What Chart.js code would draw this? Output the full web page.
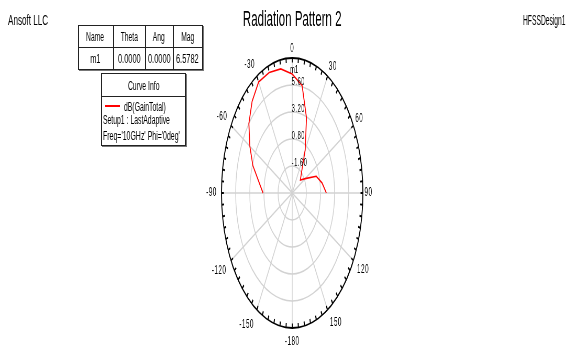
<!DOCTYPE html>
<html>
<head>
<meta charset="utf-8">
<title>Radiation Pattern 2</title>
<script src="https://cdn.jsdelivr.net/npm/chart.js@4.4.1/dist/chart.umd.min.js"></script>
<style>
  html, body { margin: 0; padding: 0; background: #fff; }
  #page { position: relative; width: 576px; height: 347px; overflow: hidden;
          font-family: "Liberation Sans", Arial, sans-serif; color: #000; }
  #polar { position: absolute; left: 0; top: 0; }
  .t { position: absolute; white-space: nowrap; font-size: 12px; line-height: 12px; }
  .t span { display: inline-block; transform-origin: 0 50%; }
  .tc { text-align: center; }
  .tc span { transform-origin: 50% 50%; }
  .frame { position: absolute; box-sizing: border-box; border: 1px solid #222;
           box-shadow: 1px 1px 0 #777; background: #fff; }
  .hl { position: absolute; left: 0; right: 0; border-top: 1px solid #222; }
  .vl { position: absolute; top: 0; bottom: 0; border-left: 1px solid #222; }
</style>
</head>
<body>
<div id="page">
  <canvas id="polar" width="1100" height="347" style="width:576px;height:347px"></canvas>

  <div class="t" style="left:8px;top:13px;font-size:14px;line-height:14px"><span style="transform:scaleX(0.58)">Ansoft LLC</span></div>
  <div class="t" style="left:523px;top:13px;font-size:14px;line-height:14px"><span style="transform:scaleX(0.48)">HFSSDesign1</span></div>

  <div class="frame" id="markerBox" style="left:78px;top:25px;width:125px;height:45px"></div>

  <div class="frame" id="curveBox" style="left:101px;top:73px;width:85px;height:73px">
    <div class="hl" style="top:22px"></div>
  </div>
</div>

<script>
// polar grid angles (deg) used as radar categories
var thetaGrid = [0, 10, 20, 30, 40, 50, 60, 70, 80, 90, 100, 110, 120, 130, 140, 150, 160, 170,
                 180, 190, 200, 210, 220, 230, 240, 250, 260, 270, 280, 290, 300, 310, 320, 330, 340, 350];
// labelled spokes
var spokeAngles = [0, 30, 60, 90, 120, 150, 180, 210, 240, 270, 300, 330];
var spokeText = ["0", "30", "60", "90", "120", "150", "-180", "-150", "-120", "-90", "-60", "-30"];

// dB(GainTotal), Phi = 0deg cut
var thetaDeg = [-90, -80, -70, -60, -50, -40, -30, -20, -10, 0, 10, 20, 30, 40, 50, 60, 70, 80, 90];
var gainDb   = [0.95, 1.75, 3.1, 4.3, 5.6, 6.6, 7.4, 7.4, 7.2, 6.5782, 5.7, 3.1, 0.4, -1.5, -2.2, -1.45, 0.35, 1.15, 1.8];

// radial axis
var rMin = -4, rMax = 8, rStep = 2.4;

// marker table
var markerName = "m1";
var markerTheta = 0;
var markerCols = ["Name", "Theta", "Ang", "Mag"];

var curveName = "dB(GainTotal)";
var curveInfo = ["Setup1 : LastAdaptive", "Freq='10GHz' Phi='0deg'"];

// place the gain values on the 10 deg grid (null where not computed)
var radarData = thetaGrid.map(function (a) {
    for (var i = 0; i < thetaDeg.length; i++) {
        if (((thetaDeg[i] % 360) + 360) % 360 === a) return gainDb[i];
    }
    return null;
});

var markerVal = gainDb[thetaDeg.indexOf(markerTheta)];

// ---- HTML boxes ----
function addText(parent, txt, left, top, sx, center, width) {
    var d = document.createElement("div");
    d.className = "t" + (center ? " tc" : "");
    // centred text gets a wider box so the unscaled width never overflows it
    d.style.left = (center ? left - 30 : left) + "px";
    d.style.top = top + "px";
    if (width) d.style.width = (width + 60) + "px";
    var s = document.createElement("span");
    s.textContent = txt;
    s.style.transform = "scaleX(" + sx + ")";
    d.appendChild(s);
    parent.appendChild(d);
}

var mb = document.getElementById("markerBox");
var colX = [0, 35, 67, 95, 124];
var row1 = [markerName, markerTheta.toFixed(4), markerTheta.toFixed(4), markerVal.toFixed(4)];
for (var c = 0; c < 4; c++) {
    if (c > 0) {
        var v = document.createElement("div");
        v.className = "vl";
        v.style.left = (colX[c] - 1) + "px";
        mb.appendChild(v);
    }
    var w = colX[c + 1] - colX[c];
    addText(mb, markerCols[c], colX[c] - 1, 5, 0.56, true, w);
    addText(mb, row1[c], colX[c] - 1, 27, 0.62, true, w);
}
var h = document.createElement("div");
h.className = "hl";
h.style.top = "21px";
mb.appendChild(h);

var cb = document.getElementById("curveBox");
addText(cb, "Curve Info", -1, 6, 0.57, true, 85);
var sw = document.createElement("div");
sw.style.cssText = "position:absolute;left:3px;top:31px;width:15px;height:0;border-top:2.5px solid #ff0000";
cb.appendChild(sw);
addText(cb, curveName, 22, 27, 0.57, false);
addText(cb, curveInfo[0], 1, 40, 0.57, false);
addText(cb, curveInfo[1], 1, 56, 0.58, false);

// ---- polar decorations drawn on the radial scale ----
var spokePad = [4, 5, 4, 3, 8, 9, 9, 11, 10, 9, 8, 7];
var polarDecor = {
    id: "polarDecor",
    afterDatasetsDraw: function (chart) {
        var sc = chart.scales.r;
        var ctx = chart.ctx;
        var R = sc.drawingArea;
        var gridStep = 360 / thetaGrid.length;
        ctx.save();

        // small ticks every 5 deg on the outer ring
        ctx.strokeStyle = "#000";
        ctx.lineWidth = 2;
        ctx.beginPath();
        for (var a = 0; a < 360; a += 5) {
            var p1 = sc.getPointPosition(a / gridStep, R);
            var p2 = sc.getPointPosition(a / gridStep, R - 4.5);
            ctx.moveTo(p1.x, p1.y);
            ctx.lineTo(p2.x, p2.y);
        }
        ctx.stroke();

        ctx.fillStyle = "#000";
        ctx.textBaseline = "middle";

        // radial value labels along the 0 deg spoke
        ctx.font = '11px "Liberation Sans", Arial, sans-serif';
        ctx.letterSpacing = "1px";
        ctx.textAlign = "left";
        sc.ticks.forEach(function (t) {
            if (t.value <= sc.min || t.value >= sc.max) return;
            var d = sc.getDistanceFromCenterForValue(t.value);
            ctx.fillText(t.value.toFixed(2), sc.xCenter - 1, sc.yCenter - d - 3);
        });

        // angle labels
        ctx.font = '12px "Liberation Sans", Arial, sans-serif';
        ctx.letterSpacing = "1px";
        spokeAngles.forEach(function (a, i) {
            var p = sc.getPointPosition(a / gridStep, R + spokePad[i]);
            var y = p.y;
            if (a === 0 || a === 180) ctx.textAlign = "center";
            else if (a < 180) ctx.textAlign = "left";
            else ctx.textAlign = "right";
            if (a < 90 || a > 270) y -= 5;
            else if (a > 90 && a < 270) y += 5;
            ctx.fillText(spokeText[i], p.x, y);
        });

        // marker m1
        var mIdx = thetaGrid.indexOf(((markerTheta % 360) + 360) % 360);
        var mp = sc.getPointPositionForValue(mIdx, markerVal);
        ctx.font = '11px "Liberation Sans", Arial, sans-serif';
        ctx.letterSpacing = "0px";
        ctx.textAlign = "left";
        ctx.textBaseline = "alphabetic";
        ctx.fillText(markerName, mp.x - 4, mp.y - 1);

        ctx.restore();
    }
};

Chart.defaults.font.family = '"Liberation Sans", Arial, sans-serif';
Chart.defaults.color = "#000";

new Chart("polar", {
    type: "radar",
    data: {
        labels: thetaGrid,
        datasets: [{
            label: curveName,
            data: radarData,
            borderColor: "#ff0000",
            borderWidth: 1.7,
            pointRadius: 0,
            fill: false,
            tension: 0,
            spanGaps: false
        }]
    },
    options: {
        responsive: false,
        animation: false,
        layout: { padding: { left: 16, right: 0, top: 0, bottom: 19 } },
        plugins: {
            legend: { display: false },
            tooltip: { enabled: false },
            title: {
                display: true,
                text: "Radiation Pattern 2",
                font: { size: 22, weight: "normal" },
                color: "#000",
                padding: { top: 7, bottom: 24.6 }
            }
        },
        scales: {
            r: {
                min: rMin,
                max: rMax,
                startAngle: 0,
                ticks: { display: false, stepSize: rStep },
                pointLabels: { display: false },
                grid: {
                    circular: true,
                    color: function (c) { return c.tick && c.tick.value >= rMax ? "#000" : "#d2d2d2"; },
                    lineWidth: function (c) { return c.tick && c.tick.value >= rMax ? 1.8 : 1.5; }
                },
                angleLines: {
                    display: true,
                    color: "#d2d2d2",
                    lineWidth: function (c) { return thetaGrid[c.index] % 30 === 0 ? 1.5 : 0; }
                }
            }
        }
    },
    plugins: [polarDecor]
});
</script>
</body>
</html>
